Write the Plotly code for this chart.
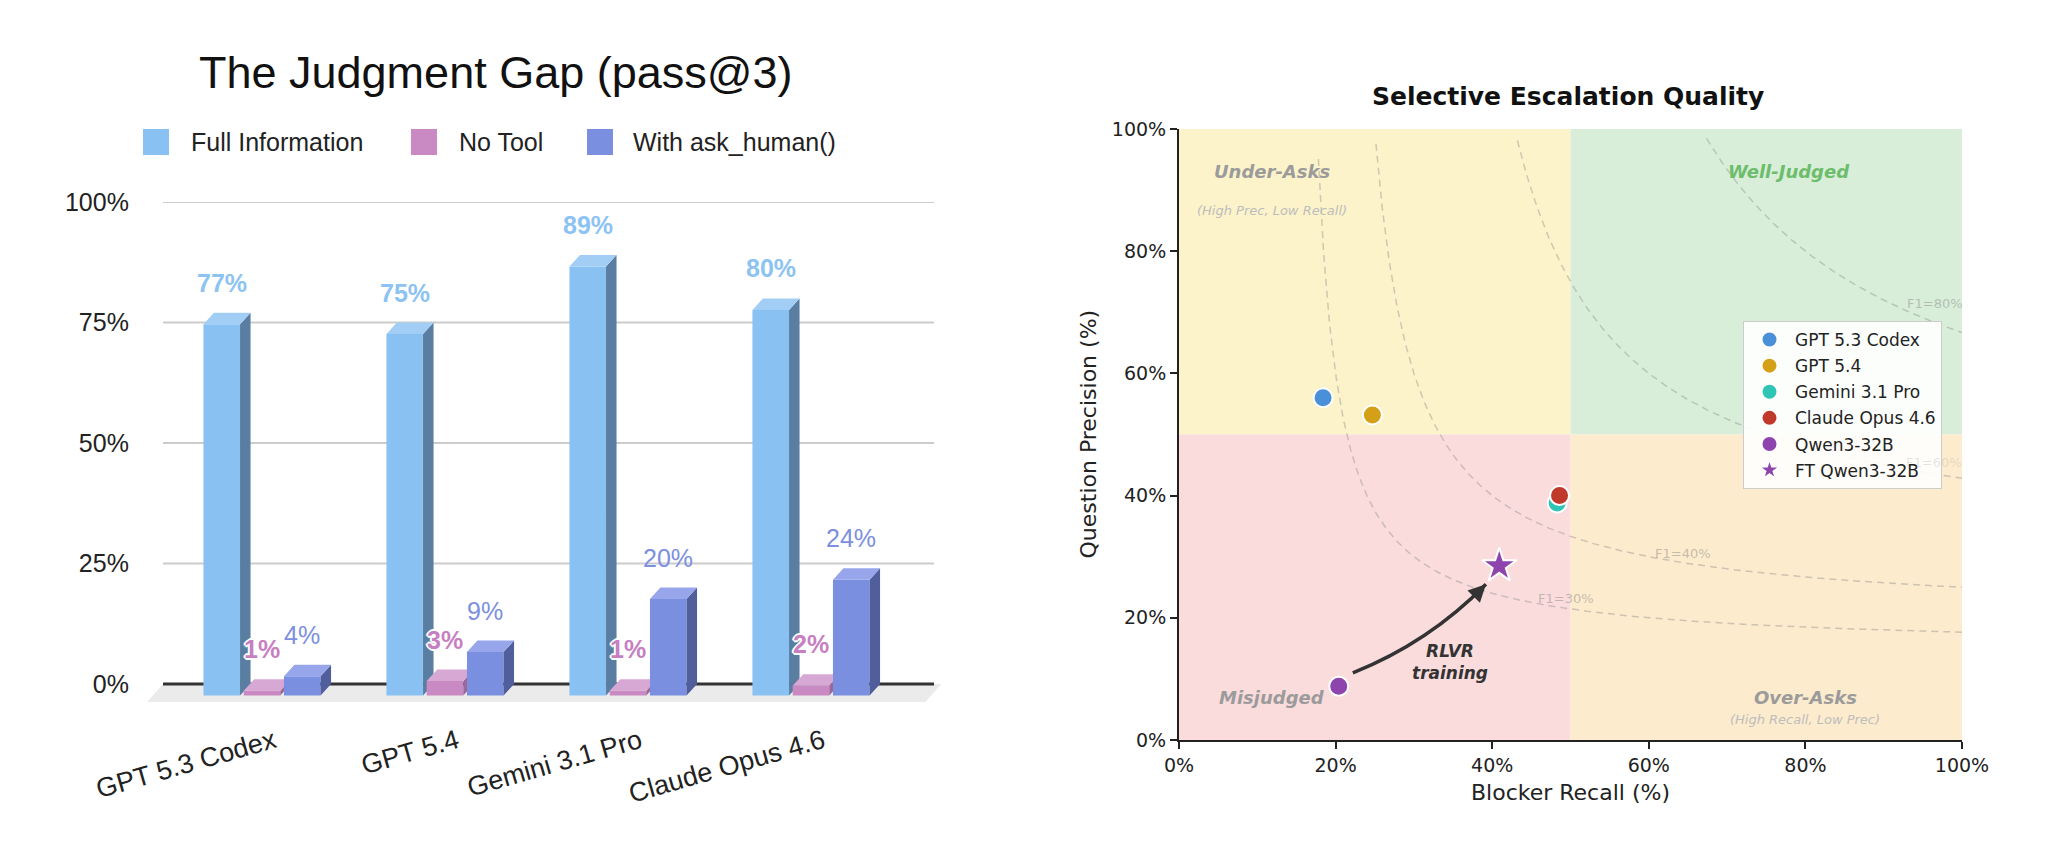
import numpy as np
import plotly.graph_objects as go

W, H = 2048, 841
OX, OY = 8, 8  # page body margin offset of the figure inside the browser window

# ---------------- data: left chart ----------------
categories = ["GPT 5.3 Codex", "GPT 5.4", "Gemini 3.1 Pro", "Claude Opus 4.6"]
full_info = [77, 75, 89, 80]
no_tool = [1, 3, 1, 2]
ask_human = [4, 9, 20, 24]
left_yticks = [0, 25, 50, 75, 100]

# ---------------- data: right chart ----------------
models = ["GPT 5.3 Codex", "GPT 5.4", "Gemini 3.1 Pro", "Claude Opus 4.6", "Qwen3-32B", "FT Qwen3-32B"]
recall = [18.4, 24.7, 48.3, 48.6, 20.4, 40.9]
precision = [56.0, 53.2, 38.8, 40.0, 8.8, 28.5]
f1_levels = [30, 40, 60, 80]
right_ticks = [0, 20, 40, 60, 80, 100]

# ---------------- styles ----------------
LF = "Liberation Sans"
RF = "DejaVu Sans"
model_colors = ["#4a90d9", "#d4a017", "#2ec4b6", "#c0392b", "#8e44ad", "#8e44ad"]
model_symbols = ["circle"] * 5 + ["star"]
f1_label_pos = {30: (49.4, 23.1), 40: (64.4, 30.6), 60: (96.4, 45.5), 80: (96.5, 71.4)}
f1_label_alpha = {30: 0.5, 40: 0.5, 60: 0.22, 80: 0.5}


def fx(px):
    return (px - OX) / W


def fy(py):
    return 1 - (py - OY) / H


# left geometry (window pixels -> domains)
unit_px = 183.0
zero_x_px = 262.0
xr_left = [-0.7, 3.75]
xdom_left = [fx(zero_x_px + xr_left[0] * unit_px), fx(zero_x_px + xr_left[1] * unit_px)]
pp = 4.82  # px per percent
zero_y_px = 684.0
yr_left = [-8, 100]
ydom_left = [fy(zero_y_px - yr_left[0] * pp), fy(zero_y_px - yr_left[1] * pp)]

DX = 10.5 / unit_px
DY = 11.5 / pp
BW = 0.2
grid_x0 = (163 - zero_x_px) / unit_px
grid_x1 = (934 - zero_x_px) / unit_px

series = [
    dict(name="Full Information", vals=full_info, off=-0.32, front="#89c1f3", side="#5a7ea1", top="#a2cef6",
         lab="#8cc3f2", weight="bold", shadow="none", ax="2"),
    dict(name="No Tool", vals=no_tool, off=-0.10, front="#c98ac4", side="#9c6899", top="#d8a8d5",
         lab="#c77fc2", weight="bold",
         shadow="2px 0 0 #fff, -2px 0 0 #fff, 0 2px 0 #fff, 0 -2px 0 #fff, 1px 1px 0 #fff, -1px -1px 0 #fff, 1px -1px 0 #fff, -1px 1px 0 #fff",
         ax="3"),
    dict(name="With ask_human()", vals=ask_human, off=0.12, front="#7b8fe0", side="#505e9b", top="#97a6eb",
         lab="#7c8fe0", weight="normal", shadow="none", ax="4"),
]

fig = go.Figure()

# floor and baseline on base subplot
fl_dx = 16 / unit_px
fl_dy = 18 / pp
fig.add_trace(go.Scatter(
    x=[grid_x0, grid_x1 + 0.04, grid_x1 + 0.04 - fl_dx, grid_x0 - fl_dx, grid_x0],
    y=[0, 0, -fl_dy, -fl_dy, 0], mode="lines", fill="toself", fillcolor="#ebebeb",
    line=dict(width=0), showlegend=False, hoverinfo="skip", xaxis="x", yaxis="y"))
fig.add_trace(go.Scatter(x=[grid_x0, grid_x1], y=[0, 0], mode="lines", line=dict(color="#333333", width=3),
                         showlegend=False, hoverinfo="skip", xaxis="x", yaxis="y"))

annotations = []
shapes = []

for s in series:
    xa, ya = "x" + s["ax"], "y" + s["ax"]
    xl = [i + s["off"] for i in range(len(categories))]
    xc = [v + BW / 2 for v in xl]
    fig.add_trace(go.Bar(x=xc, y=s["vals"], base=[-DY] * len(categories), width=BW,
                         marker=dict(color=s["front"], line=dict(width=0)),
                         showlegend=False, hoverinfo="skip", xaxis=xa, yaxis=ya))
    sx, sy, tx, ty = [], [], [], []
    for x0, v in zip(xl, s["vals"]):
        xr = x0 + BW
        sx += [xr, xr, xr + DX, xr + DX, xr, None]
        sy += [-DY, v - DY, v, 0, -DY, None]
        tx += [x0, xr, xr + DX, x0 + DX, x0, None]
        ty += [v - DY, v - DY, v, v, v - DY, None]
    fig.add_trace(go.Scatter(x=sx, y=sy, mode="lines", fill="toself", fillcolor=s["side"], line=dict(width=0),
                             showlegend=False, hoverinfo="skip", xaxis=xa, yaxis=ya))
    fig.add_trace(go.Scatter(x=tx, y=ty, mode="lines", fill="toself", fillcolor=s["top"], line=dict(width=0),
                             showlegend=False, hoverinfo="skip", xaxis=xa, yaxis=ya))
    for x, v in zip(xc, s["vals"]):
        annotations.append(dict(x=x, y=v, xref="x", yref="y", yshift=30, text=f"{v}%", showarrow=False,
                                xanchor="center", yanchor="middle",
                                font=dict(family=LF, size=25, color=s["lab"], weight=s["weight"], shadow=s["shadow"])))

# gridlines (left)
for t in left_yticks[1:]:
    shapes.append(dict(type="line", xref="x", yref="y", x0=grid_x0, x1=grid_x1, y0=t, y1=t,
                       line=dict(color="#cccccc", width=2), layer="below"))

# left legend (custom)
leg_items = [(143, 189), (411, 457), (587, 631)]
for (sqx, tx), s in zip(leg_items, series):
    shapes.append(dict(type="rect", xref="paper", yref="paper", x0=fx(sqx), x1=fx(sqx + 26),
                       y0=fy(155), y1=fy(129), fillcolor=s["front"], line=dict(width=0)))
    annotations.append(dict(x=fx(tx), y=fy(142), xref="paper", yref="paper", xanchor="left", yanchor="middle",
                            text=s["name"], showarrow=False, font=dict(family=LF, size=25, color="#222222")))

# left title
annotations.append(dict(x=fx(495), y=fy(73), xref="paper", yref="paper", xanchor="center", yanchor="middle",
                        text="The Judgment Gap (pass@3)", showarrow=False, font=dict(family=LF, size=45, color="#111111")))

# ---------------- right chart ----------------
region_fill = [
    (0, 50, 50, 100, "#fcf3ca"),
    (50, 100, 50, 100, "#d9eed9"),
    (0, 50, 0, 50, "#fbdcdc"),
    (50, 100, 0, 50, "#fdebcd"),
]
for x0, x1, y0, y1, c in region_fill:
    shapes.append(dict(type="rect", xref="x5", yref="y5", x0=x0, x1=x1, y0=y0, y1=y1, fillcolor=c,
                       line=dict(width=0), layer="below"))

rgrid = np.linspace(0.005, 1.0, 800)
for f in f1_levels:
    F = f / 100.0
    with np.errstate(divide="ignore", invalid="ignore"):
        p = F * rgrid / (2 * rgrid - F)
    m = (p > 0) & (p <= 0.985)
    fig.add_trace(go.Scatter(x=rgrid[m] * 100, y=p[m] * 100, mode="lines",
                             line=dict(color="rgba(140,140,140,0.42)", width=1.5, dash="7px,5px"),
                             showlegend=False, hoverinfo="skip", xaxis="x5", yaxis="y5"))
    lx, ly = f1_label_pos[f]
    annotations.append(dict(x=lx, y=ly, xref="x5", yref="y5", text=f"F1={f}%", showarrow=False,
                            xanchor="center", yanchor="middle",
                            font=dict(family=RF, size=13, color=f"rgba(140,140,140,{f1_label_alpha[f]})")))

for name, r, p, c, sym in zip(models, recall, precision, model_colors, model_symbols):
    fig.add_trace(go.Scatter(x=[r], y=[p], mode="markers", name=name, legendgroup=name,
                             marker=dict(color=c, symbol=sym, size=26 if sym == "star" else 19,
                                         line=dict(color="white", width=2)),
                             cliponaxis=False, xaxis="x5", yaxis="y5", hoverinfo="skip"))


def rtext(x, y, t, size, color, bold=True, italic=True):
    annotations.append(dict(x=x, y=y, xref="x5", yref="y5", text=t, showarrow=False,
                            xanchor="center", yanchor="middle",
                            font=dict(family=RF, size=size, color=color, weight="bold" if bold else "normal",
                                      style="italic" if italic else "normal")))


rtext(11.9, 93.0, "Under-Asks", 18, "#9b9b9b")
rtext(11.9, 86.7, "(High Prec, Low Recall)", 13, "#bdbdbd", bold=False)
rtext(77.9, 93.0, "Well-Judged", 18, "#6cbd6c")
rtext(11.9, 6.9, "Misjudged", 18, "#9b9b9b")
rtext(80.0, 7.0, "Over-Asks", 18, "#9b9b9b")
rtext(80.0, 3.3, "(High Recall, Low Prec)", 13, "#bdbdbd", bold=False)
rtext(34.6, 12.8, "RLVR<br>training", 17, "#333333")

# curved arrow (from base model to fine-tuned model)
a0 = (recall[4] + 1.8, precision[4] + 2.2)
a1 = (recall[5] - 1.7, precision[5] - 3.0)
mid = ((a0[0] + a1[0]) / 2, (a0[1] + a1[1]) / 2)
ctrl = (mid[0] + 1.2, mid[1] - 2.3)
shapes.append(dict(type="path", xref="x5", yref="y5",
                   path=f"M {a0[0]},{a0[1]} Q {ctrl[0]},{ctrl[1]} {a1[0]},{a1[1]}",
                   line=dict(color="#333333", width=3.5)))
tdx = (a1[0] - ctrl[0]) * 7.83
tdy = -(a1[1] - ctrl[1]) * 6.11
tl = (tdx ** 2 + tdy ** 2) ** 0.5
annotations.append(dict(x=a1[0], y=a1[1], xref="x5", yref="y5", ax=-tdx / tl * 12, ay=-tdy / tl * 12,
                        axref="pixel", ayref="pixel", text="", showarrow=True, arrowhead=2, arrowsize=1,
                        arrowwidth=3.5, arrowcolor="#333333", standoff=0))

# right titles
annotations.append(dict(x=fx(1568), y=fy(96), xref="paper", yref="paper", text="Selective Escalation Quality",
                        xanchor="center", yanchor="middle", showarrow=False,
                        font=dict(family=RF, size=25, color="#111111", weight="bold")))
annotations.append(dict(x=fx(1570), y=fy(792), xref="paper", yref="paper", text="Blocker Recall (%)",
                        xanchor="center", yanchor="middle", showarrow=False,
                        font=dict(family=RF, size=22, color="#222222")))
annotations.append(dict(x=fx(1088), y=fy(434.5), xref="paper", yref="paper", text="Question Precision (%)",
                        xanchor="center", yanchor="middle", textangle=-90, showarrow=False,
                        font=dict(family=RF, size=22, color="#222222")))

hidden = dict(visible=False, showgrid=False, zeroline=False, automargin=False)
right_axis = dict(range=[0, 100], tickvals=right_ticks, ticktext=[f"{t}%" for t in right_ticks],
                  showgrid=False, zeroline=False, showline=True, linecolor="#222222", linewidth=2,
                  ticks="outside", ticklen=7, tickwidth=2, tickcolor="#222222", automargin=False,
                  tickfont=dict(family=RF, size=19, color="#222222"))
fig.update_layout(
    template="none",
    width=W, height=H, margin=dict(l=0, r=0, t=0, b=0, pad=0, autoexpand=False),
    paper_bgcolor="white", plot_bgcolor="rgba(0,0,0,0)",
    barmode="overlay", hovermode=False,
    xaxis=dict(domain=xdom_left, range=xr_left, tickvals=list(range(len(categories))), ticktext=categories,
               tickangle=-16, showgrid=False, zeroline=False, showline=False, ticks="", automargin=False,
               ticklabelstandoff=-3, ticklabelshift=12,
               tickfont=dict(family=LF, size=27, color="#222222"), anchor="y"),
    yaxis=dict(domain=ydom_left, range=yr_left, tickvals=left_yticks, ticktext=[f"{t}%" for t in left_yticks],
               showgrid=False, zeroline=False, showline=False, ticks="", ticklabelstandoff=4, automargin=False,
               tickfont=dict(family=LF, size=25, color="#222222"), anchor="x"),
    xaxis2=dict(overlaying="x", range=xr_left, anchor="y2", **hidden),
    yaxis2=dict(overlaying="y", range=yr_left, anchor="x2", **hidden),
    xaxis3=dict(overlaying="x", range=xr_left, anchor="y3", **hidden),
    yaxis3=dict(overlaying="y", range=yr_left, anchor="x3", **hidden),
    xaxis4=dict(overlaying="x", range=xr_left, anchor="y4", **hidden),
    yaxis4=dict(overlaying="y", range=yr_left, anchor="x4", **hidden),
    xaxis5=dict(domain=[fx(1179), fx(1962)], anchor="y5", **right_axis),
    yaxis5=dict(domain=[fy(740), fy(129)], anchor="x5", **right_axis),
    legend=dict(x=fx(1743), y=fy(321), xanchor="left", yanchor="top", bgcolor="rgba(255,255,255,0.9)",
                bordercolor="#cccccc", borderwidth=1, itemsizing="trace", itemwidth=41,
                tracegroupgap=1, traceorder="grouped",
                font=dict(family=RF, size=17, color="#222222")),
    annotations=annotations, shapes=shapes, showlegend=True,
)

fig.write_html("out.html", config={"displayModeBar": False})
